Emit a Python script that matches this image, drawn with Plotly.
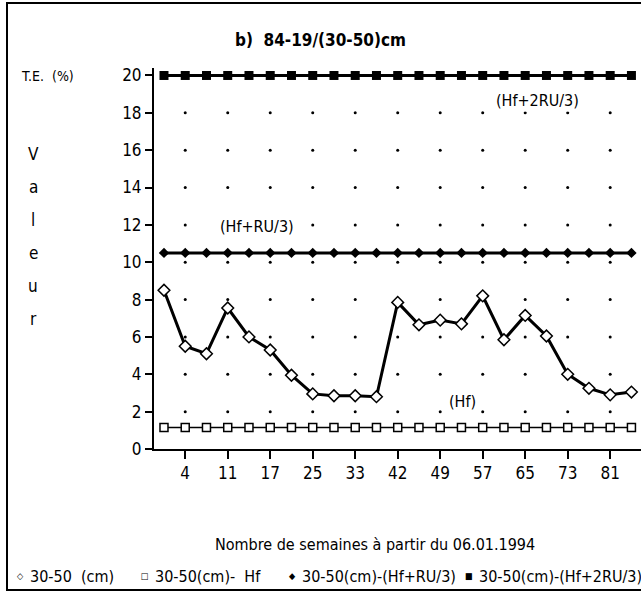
import plotly.graph_objects as go

# Week numbers (categorical, evenly spaced); only every second one is labelled
weeks = ["1", "4", "8", "11", "14", "17", "21", "25", "29", "33", "38", "42",
         "45", "49", "53", "57", "61", "65", "69", "73", "77", "81", "85"]
labeled_weeks = ["4", "11", "17", "25", "33", "42", "49", "57", "65", "73", "81"]

# T.E. (%) values per series
te_30_50 = [8.5, 5.5, 5.1, 7.55, 6.0, 5.3, 3.95, 2.95, 2.85, 2.85, 2.8, 7.85,
            6.65, 6.9, 6.7, 8.2, 5.85, 7.15, 6.05, 4.0, 3.25, 2.9, 3.05]
te_hf = [1.15, 1.15, 1.15, 1.15, 1.15, 1.15, 1.15, 1.15, 1.15, 1.15, 1.15, 1.15,
         1.15, 1.15, 1.15, 1.15, 1.15, 1.15, 1.15, 1.15, 1.15, 1.15, 1.15]
te_hf_ru3 = [10.5, 10.5, 10.5, 10.5, 10.5, 10.5, 10.5, 10.5, 10.5, 10.5, 10.5, 10.5,
             10.5, 10.5, 10.5, 10.5, 10.5, 10.5, 10.5, 10.5, 10.5, 10.5, 10.5]
te_hf_2ru3 = [20, 20, 20, 20, 20, 20, 20, 20, 20, 20, 20, 20,
              20, 20, 20, 20, 20, 20, 20, 20, 20, 20, 20]

y_ticks = [0, 2, 4, 6, 8, 10, 12, 14, 16, 18, 20]
grid_levels = [2, 4, 6, 8, 10, 12, 14, 16, 18]

series_names = ["30-50  (cm)", "30-50(cm)-  Hf", "30-50(cm)-(Hf+RU/3)", "30-50(cm)-(Hf+2RU/3)"]
legend_glyphs = ["◇", "□", "◆", "■"]

FONT = "DejaVu Sans Condensed, DejaVu Sans, sans-serif"

# Page geometry (pixels)
W, H = 641, 592
M_L, M_R, M_T, M_B = 154, 0, 68, 143
PW, PH = W - M_L - M_R, H - M_T - M_B


def px(x):
    return (x - M_L) / PW


def py(y):
    return (H - M_B - y) / PH


def page_text(x, y, text, size, anchor="center"):
    return dict(x=px(x), y=py(y), xref="paper", yref="paper", xanchor=anchor,
                yanchor="middle", text=text, showarrow=False, font=dict(size=size))


fig = go.Figure()

# dotted grid: one dot at every labelled week / y-tick intersection
fig.add_trace(go.Scatter(
    x=[w for lv in grid_levels for w in labeled_weeks],
    y=[lv for lv in grid_levels for w in labeled_weeks],
    mode="markers", marker=dict(size=3, color="black"),
    hoverinfo="skip", showlegend=False))

fig.add_trace(go.Scatter(
    x=weeks, y=te_hf, mode="lines+markers", name=series_names[1],
    line=dict(color="black", width=1.5),
    marker=dict(symbol="square", size=8, color="white", line=dict(color="black", width=1.5)),
    showlegend=False))
fig.add_trace(go.Scatter(
    x=weeks, y=te_hf_ru3, mode="lines+markers", name=series_names[2],
    line=dict(color="black", width=3),
    marker=dict(symbol="diamond", size=8, color="black"),
    showlegend=False))
fig.add_trace(go.Scatter(
    x=weeks, y=te_hf_2ru3, mode="lines+markers", name=series_names[3],
    line=dict(color="black", width=3),
    marker=dict(symbol="square", size=9, color="black"),
    showlegend=False))
fig.add_trace(go.Scatter(
    x=weeks, y=te_30_50, mode="lines+markers", name=series_names[0],
    line=dict(color="black", width=3),
    marker=dict(symbol="diamond", size=9, color="white", line=dict(color="black", width=1.5)),
    showlegend=False))

annotations = [
    dict(x=17.6, y=18.65, xref="x", yref="y", text="(Hf+2RU/3)", showarrow=False,
         bgcolor="white", font=dict(size=16)),
    dict(x=4.4, y=11.9, xref="x", yref="y", text="(Hf+RU/3)", showarrow=False,
         bgcolor="white", font=dict(size=16)),
    dict(x=14.05, y=2.55, xref="x", yref="y", text="(Hf)", showarrow=False,
         bgcolor="white", font=dict(size=16)),
    page_text(375, 544, "Nombre de semaines à partir du 06.01.1994", 16),
    page_text(47, 76, "T.E.  (%)", 14),
]
for i, ch in enumerate("Valeur"):
    annotations.append(page_text(33, 154 + i * 33, ch, 17))

# legend row along the bottom: small glyph followed by the series name
legend_x = [20, 145, 292, 469]
for gx, glyph, name in zip(legend_x, legend_glyphs, series_names):
    annotations.append(page_text(gx, 576, glyph, 9))
    annotations.append(page_text(gx + 8, 576, name, 16, anchor="left"))

fig.update_layout(
    width=W, height=H,
    margin=dict(l=M_L, r=M_R, t=M_T, b=M_B, pad=0),
    paper_bgcolor="white", plot_bgcolor="white",
    font=dict(family=FONT, color="black", size=16),
    title=dict(text="b)  84-19/(30-50)cm", x=0.5, xref="container", xanchor="center",
               y=1 - 40 / H, yref="container", yanchor="middle",
               font=dict(size=17, family=FONT, weight="bold")),
    xaxis=dict(type="category", categoryorder="array", categoryarray=weeks,
               range=[-0.47, 22.45], tickmode="array", tickvals=labeled_weeks,
               ticktext=labeled_weeks, ticks="outside", ticklen=8, tickwidth=2,
               tickcolor="black", showline=True, linewidth=2, linecolor="black",
               showgrid=False, zeroline=False, tickfont=dict(size=17)),
    yaxis=dict(range=[0, 20.4], tickmode="array", tickvals=y_ticks,
               ticks="outside", ticklen=7, tickwidth=2, tickcolor="black",
               showline=True, linewidth=2, linecolor="black",
               showgrid=False, zeroline=False, tickfont=dict(size=17)),
    yaxis2=dict(overlaying="y", anchor="x", side="left", range=[0, 20.4],
                tickmode="array", tickvals=y_ticks, ticks="inside", ticklen=7,
                tickwidth=2, tickcolor="black", showticklabels=False,
                showline=False, showgrid=False, zeroline=False),
    annotations=annotations,
    shapes=[dict(type="rect", xref="paper", yref="paper",
                 x0=px(7), x1=px(W + 20), y0=py(590), y1=py(3),
                 line=dict(color="black", width=2))],
    showlegend=False,
)

fig.write_html("out.html")
